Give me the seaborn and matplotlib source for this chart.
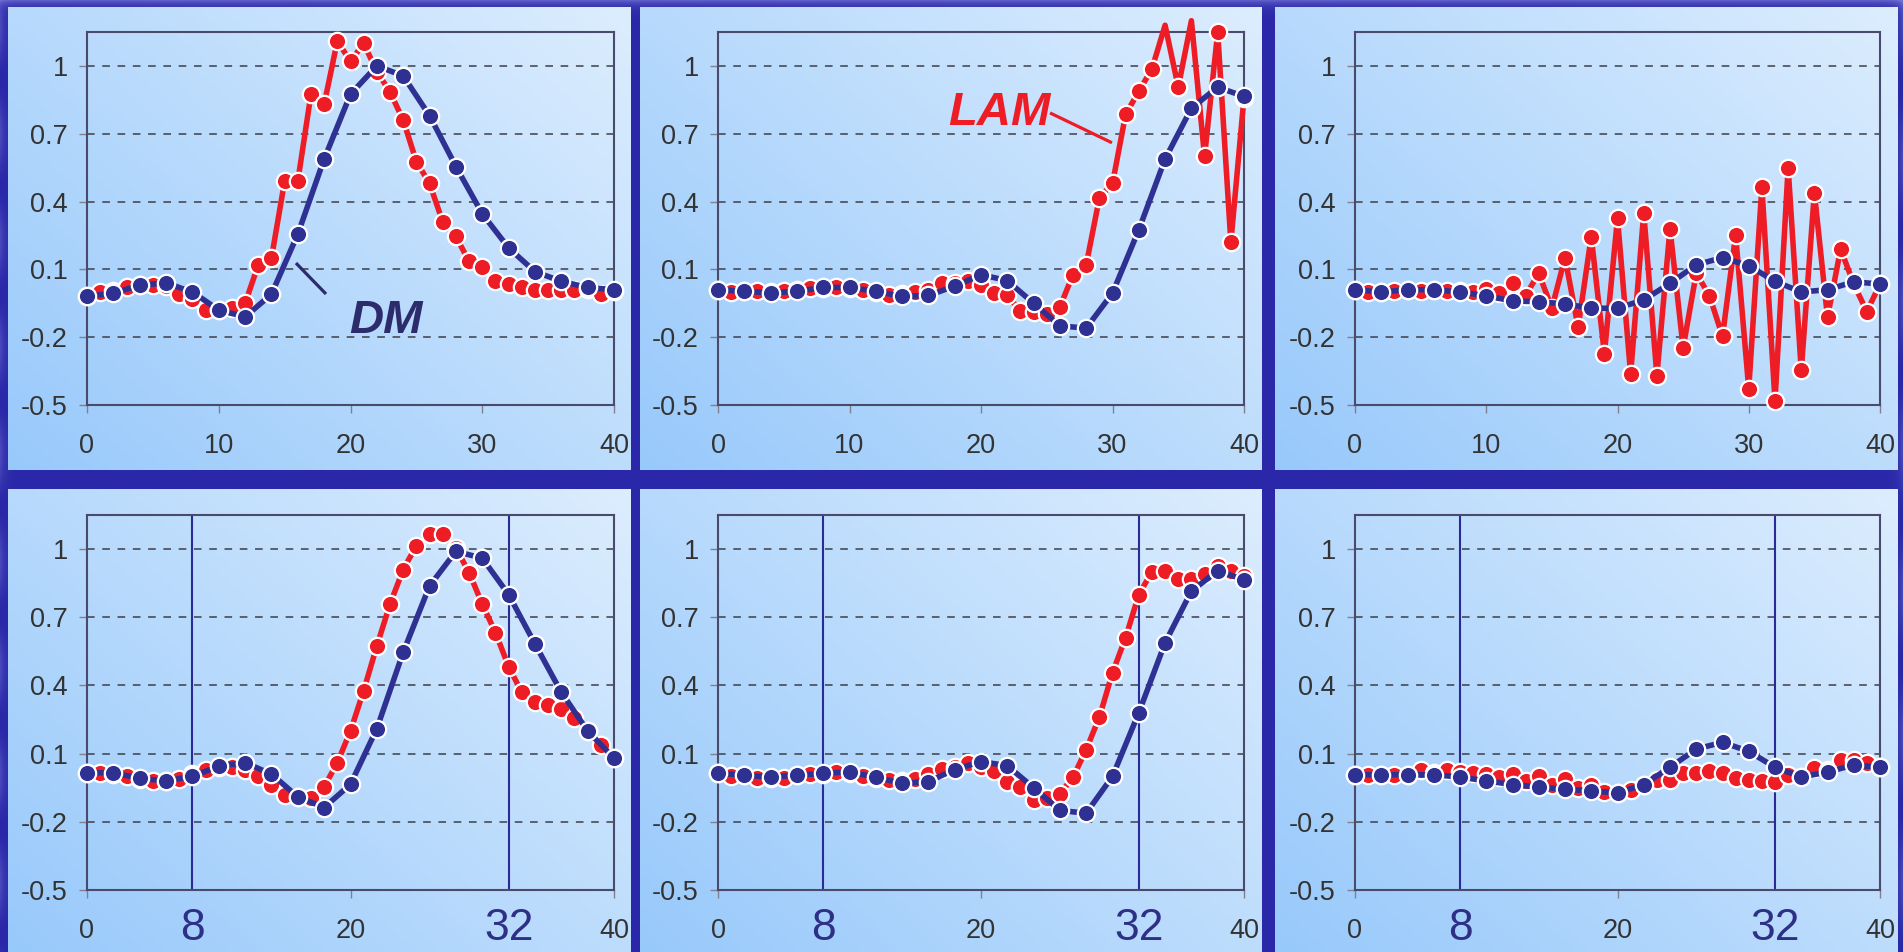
import numpy as np
import matplotlib
matplotlib.use("Agg")
import matplotlib.pyplot as plt
import seaborn as sns
from matplotlib.transforms import blended_transform_factory

# ---- data -------------------------------------------------------------
steps = list(range(41))          # LAM sampled every step
steps_dm = list(range(0, 41, 2))  # DM sampled every second step

# top row
lam_top_1 = [-0.02, 0.0, 0.005, 0.02, 0.03, 0.03, 0.025, -0.01, -0.03, -0.08, -0.08,
             -0.07, -0.05, 0.12, 0.15, 0.49, 0.49, 0.875, 0.83, 1.11, 1.02,
             1.10, 0.975, 0.885, 0.76, 0.577, 0.48, 0.31, 0.246, 0.135, 0.11,
             0.047, 0.035, 0.02, 0.01, 0.01, 0.01, 0.01, 0.015, -0.01, 0.005]
dm_top_1 = [-0.02, -0.005, 0.03, 0.04, 0.0, -0.08, -0.11, -0.01, 0.256, 0.588, 0.875,
            1.0, 0.956, 0.78, 0.555, 0.346, 0.195, 0.09, 0.047, 0.02, 0.01]

lam_top_2 = [0.01, 0.0, 0.003, 0.003, 0.0, 0.003, 0.008, 0.018, 0.018, 0.02, 0.018,
             0.008, 0.0, -0.015, -0.01, 0.0, 0.008, 0.04, 0.04, 0.047, 0.03,
             -0.004, -0.015, -0.085, -0.09, -0.097, -0.066, 0.077, 0.12, 0.415, 0.48,
             0.786, 0.887, 0.987, 1.18, 0.906, 1.20, 0.60, 1.149, 0.22, 0.86]
dm_top_2 = [0.01, 0.003, -0.004, 0.003, 0.02, 0.02, 0.003, -0.02, -0.015, 0.025, 0.077,
            0.05, -0.05, -0.15, -0.16, -0.005, 0.275, 0.588, 0.813, 0.906, 0.865]

lam_top_3 = [0.01, -0.002, 0.0, 0.006, 0.01, 0.006, 0.01, 0.006, 0.006, 0.0, 0.013,
             -0.006, 0.04, -0.016, 0.083, -0.072, 0.152, -0.156, 0.245, -0.273, 0.326,
             -0.362, 0.35, -0.37, 0.28, -0.247, 0.083, -0.016, -0.196, 0.252, -0.428,
             0.465, -0.482, 0.55, -0.347, 0.44, -0.112, 0.19, 0.035, -0.087, 0.035]
dm_top_3 = [0.01, 0.0, 0.01, 0.01, 0.0, -0.017, -0.04, -0.043, -0.053, -0.072, -0.072,
            -0.035, 0.038, 0.12, 0.152, 0.116, 0.047, 0.0, 0.01, 0.045, 0.035]

# bottom row
lam_bot_1 = [0.016, 0.016, 0.01, 0.0, -0.01, -0.02, -0.02, -0.013, 0.01, 0.03, 0.043,
             0.043, 0.028, 0.0, -0.04, -0.08, -0.09, -0.093, -0.046, 0.06, 0.2,
             0.377, 0.574, 0.758, 0.91, 1.015, 1.066, 1.066, 1.004, 0.897, 0.758,
             0.633, 0.483, 0.37, 0.326, 0.314, 0.296, 0.255, 0.2, 0.138, 0.08]
dm_bot_1 = [0.016, 0.016, -0.009, -0.02, 0.0, 0.045, 0.06, 0.01, -0.09, -0.137, -0.035,
            0.21, 0.546, 0.838, 0.99, 0.96, 0.80, 0.583, 0.37, 0.2, 0.08]

lam_bot_2 = [0.013, 0.003, 0.006, -0.007, -0.005, -0.007, 0.005, 0.01, 0.012, 0.02, 0.015,
             0.003, -0.005, -0.015, -0.02, -0.012, 0.01, 0.033, 0.04, 0.058, 0.04,
             0.025, -0.023, -0.048, -0.104, -0.097, -0.076, -0.004, 0.118, 0.26, 0.456,
             0.611, 0.80, 0.90, 0.904, 0.869, 0.87, 0.892, 0.924, 0.902, 0.88]
dm_bot_2 = [0.013, 0.006, -0.004, 0.006, 0.013, 0.02, -0.004, -0.03, -0.023, 0.03, 0.065,
            0.047, -0.05, -0.15, -0.162, 0.0, 0.28, 0.588, 0.815, 0.905, 0.865]

lam_bot_3 = [0.007, 0.004, 0.005, 0.004, 0.008, 0.026, 0.015, 0.03, 0.02, 0.015, 0.01,
             -0.003, 0.012, -0.02, 0.0, -0.036, -0.013, -0.05, -0.04, -0.07, -0.075,
             -0.06, -0.04, -0.017, -0.017, 0.015, 0.015, 0.023, 0.015, -0.006, -0.015,
             -0.02, -0.025, 0.004, -0.002, 0.038, 0.03, 0.074, 0.07, 0.06, 0.04]
dm_bot_3 = [0.007, 0.007, 0.007, 0.007, -0.003, -0.02, -0.036, -0.047, -0.057, -0.064, -0.073,
            -0.036, 0.04, 0.12, 0.15, 0.11, 0.04, -0.003, 0.019, 0.05, 0.04]

y_ticks = [-0.5, -0.2, 0.1, 0.4, 0.7, 1.0]
y_tick_labels = ["-0.5", "-0.2", "0.1", "0.4", "0.7", "1"]
x_ticks_top = [0, 10, 20, 30, 40]
x_ticks_bottom = [0, 20, 40]
window_marks = [8, 32]
window_labels = ["8", "32"]

# ---- style ------------------------------------------------------------
RED = "#ee1c25"
BLUE = "#2e3192"
NAVY = "#2c2c6c"
MARK_BLUE = "#2b2b98"

sns.set_theme(style="ticks")
plt.rcParams["font.family"] = ["Liberation Sans", "DejaVu Sans"]
plt.rcParams["axes.unicode_minus"] = False

W, H = 1903, 952
fig = plt.figure(figsize=(W / 100, H / 100), dpi=100)
fig.patch.set_facecolor("#2a28a8")

# dark blue backdrop with lighter streaks along the outer edges
yy, xx = np.mgrid[0:H, 0:W].astype(np.float32)
base = np.array([42, 40, 168], dtype=np.float32) / 255
glow = np.array([112, 112, 212], dtype=np.float32) / 255
edge = (np.exp(-yy / 5.0) * 0.75
        + np.exp(-xx / 5.0) * 0.45 * (0.5 + 0.5 * np.sin(yy / 17.0))
        + np.exp(-(W - 1 - xx) / 5.0) * 0.45 * (0.5 + 0.5 * np.sin(yy / 23.0 + 1.0)))
backdrop = base + (glow - base) * np.clip(edge, 0, 1)[..., None]
bg_ax = fig.add_axes([0, 0, 1, 1], zorder=-10)
bg_ax.imshow(backdrop, aspect="auto", interpolation="bilinear")
bg_ax.set_axis_off()

# panel gradient (blue at lower left, pale at upper right)
gy, gx = np.mgrid[0:120, 0:120] / 119.0
t = np.clip(0.55 * gx + 0.45 * (1 - gy), 0, 1)
dark = np.array([152, 201, 251]) / 255
light = np.array([220, 237, 254]) / 255
panel_img = dark + (light - dark) * t[..., None]


def frac_rect(x0, y0, x1, y1):
    return [x0 / W, 1 - y1 / H, (x1 - x0) / W, (y1 - y0) / H]


panel_cols = [(8, 631), (640, 1262), (1275, 1898)]
panel_rows = [(7, 470), (489, 952)]
axes_cols = [(87, 614), (718, 1244), (1355, 1880)]
axes_rows = [(32, 405), (515, 890)]

grid = [[(lam_top_1, dm_top_1), (lam_top_2, dm_top_2), (lam_top_3, dm_top_3)],
        [(lam_bot_1, dm_bot_1), (lam_bot_2, dm_bot_2), (lam_bot_3, dm_bot_3)]]

y_lo, y_hi = -0.5, 1.15
axes = {}

for r in range(2):
    for c in range(3):
        px0, px1 = panel_cols[c]
        py0, py1 = panel_rows[r]
        pax = fig.add_axes(frac_rect(px0, py0, px1, py1), zorder=-5)
        pax.imshow(panel_img, aspect="auto", interpolation="bilinear")
        pax.set_axis_off()

        ax0, ax1 = axes_cols[c]
        ay0, ay1 = axes_rows[r]
        ax = fig.add_axes(frac_rect(ax0, ay0, ax1, ay1), zorder=1)
        ax.set_facecolor("none")
        axes[(r, c)] = ax

        lam, dm = grid[r][c]

        if r == 1:
            for m in window_marks:
                ax.axvline(m, color=MARK_BLUE, linewidth=1.5, zorder=1)

        for xs, ys, color, z in ((steps, lam, RED, 4), (steps_dm, dm, BLUE, 5)):
            shown = [bool(v <= y_hi) for v in ys]
            sns.lineplot(x=xs, y=ys, ax=ax, color=color, linewidth=4.0,
                         marker="o", markersize=12.5, markerfacecolor=color,
                         markeredgecolor="white", markeredgewidth=1.6,
                         markevery=shown, estimator=None, sort=False,
                         clip_on=False, zorder=z)

        ax.set_xlim(0, 40)
        ax.set_ylim(y_lo, y_hi)
        ax.set(xlabel=None, ylabel=None)
        ax.set_yticks(y_ticks)
        ax.set_yticklabels(y_tick_labels)
        xt = x_ticks_top if r == 0 else x_ticks_bottom
        ax.set_xticks(xt)
        ax.set_xticklabels([str(v) for v in xt])

        ax.yaxis.grid(True, linestyle=(0, (5, 5)), color="#3e3e46", linewidth=1.1)
        ax.xaxis.grid(False)
        ax.set_axisbelow(True)
        ax.tick_params(axis="both", which="both", direction="out", length=5.8,
                       width=1.0, color="#80808f", labelsize=19.5,
                       labelcolor="#333333", bottom=True, left=True,
                       top=False, right=False)
        ax.tick_params(axis="y", pad=8.0)
        ax.tick_params(axis="x", pad=14.5)
        for s in ax.spines.values():
            s.set_visible(True)
            s.set_color("#4a4a6c")
            s.set_linewidth(1.5)
            s.set_zorder(2.5)

        if r == 1:
            tr = blended_transform_factory(ax.transData, ax.transAxes)
            for m, lab in zip(window_marks, window_labels):
                ax.text(m, -0.133, lab, transform=tr, fontsize=32,
                        color="#2e3086", ha="center", va="baseline")

# series labels
ax_dm = axes[(0, 0)]
ax_dm.plot([15.86, 18.14], [0.128, -0.009], color=NAVY, linewidth=2.3,
           solid_capstyle="butt", zorder=6)
ax_dm.text(19.9, -0.181, "DM", fontsize=34, fontweight="bold", fontstyle="italic",
           color=NAVY, ha="left", va="baseline", zorder=6)

ax_lam = axes[(0, 1)]
ax_lam.plot([25.25, 29.96], [0.792, 0.66], color=RED, linewidth=2.3,
            solid_capstyle="butt", zorder=6)
ax_lam.text(17.5, 0.739, "LAM", fontsize=34, fontweight="bold", fontstyle="italic",
            color=RED, ha="left", va="baseline", zorder=6)

fig.savefig("out.png", dpi=100, facecolor=fig.get_facecolor())
